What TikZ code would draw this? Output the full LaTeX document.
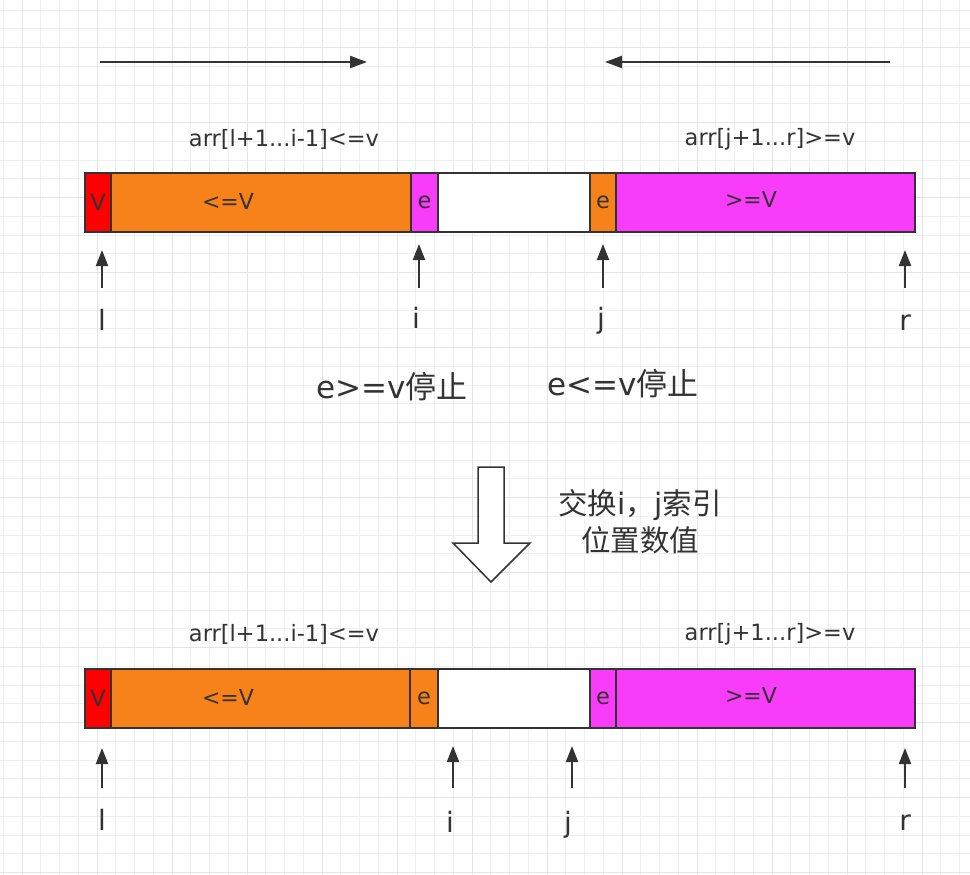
\documentclass[tikz,border=0pt]{standalone}
\usepackage{fontspec}
\setmainfont{DejaVu Sans}
\newfontfamily\cjk{Noto Sans CJK SC}
\usetikzlibrary{arrows.meta}
\definecolor{lc}{HTML}{333333}
\definecolor{tc}{HTML}{333333}
\definecolor{cred}{HTML}{FF0000}
\definecolor{corange}{HTML}{F8821A}
\definecolor{cmag}{HTML}{F93CF9}
\definecolor{gminor}{HTML}{EFEFEF}
\definecolor{gmajor}{HTML}{E4E4E4}
\tikzset{
  cell/.style={draw=lc, line width=1.4pt, inner sep=0pt, outer sep=0pt, minimum height=59pt, text=tc, font=\fontsize{22.5}{26}\selectfont},
  celltext/.style={text=tc, font=\fontsize{22}{26}\selectfont, inner sep=0pt},
  lbl/.style={text=tc, font=\fontsize{22.5}{26}\selectfont, inner sep=0pt},
  ptr/.style={text=tc, font=\fontsize{28}{32}\selectfont, inner sep=0pt, anchor=base},
  big/.style={text=tc, font=\fontsize{31}{36}\selectfont, inner sep=0pt},
  note/.style={text=tc, font=\fontsize{29.5}{37}\selectfont, inner sep=0pt, align=center},
  parr/.style={draw=lc, line width=2pt, -{Stealth[length=16pt,width=12pt,inset=0pt]}},
}
\begin{document}
\begin{tikzpicture}[x=1pt,y=-1pt]
\fill[white] (0,0) rectangle (970,875);
\useasboundingbox (0,0) rectangle (970,875);
% grid
\foreach \k in {-1,...,51} {
  \draw[gminor, line width=0.8pt] ({22+\k*18.75},0) -- ({22+\k*18.75},875);
  \draw[gminor, line width=0.8pt] (0,{10+\k*18.75}) -- (970,{10+\k*18.75});
}
\foreach \k in {-1,...,13} {
  \draw[gmajor, line width=1pt] ({22+\k*75},0) -- ({22+\k*75},875);
  \draw[gmajor, line width=1pt] (0,{47.5+\k*75}) -- (970,{47.5+\k*75});
}
% top direction arrows
\coordinate (ra0) at (100,62);
\coordinate (ra1) at (367,62);
\coordinate (la0) at (890,62);
\coordinate (la1) at (605,62);
\draw[parr, -{Stealth[length=17pt,width=12pt,inset=0pt]}] (ra0) -- (ra1);
\draw[parr, -{Stealth[length=17pt,width=12pt,inset=0pt]}] (la0) -- (la1);
% top labels
\node[lbl] (tl1) at (284,139) {arr[l+1...i-1]<=v};
\node[lbl] (tl2) at (770,139) {arr[j+1...r]>=v};
% top bar
\node[cell, fill=cred, minimum width=26pt] (a1) at (98,202.5) {V};
\node[cell, fill=corange, minimum width=300pt] (a2) at (261,202.5) {};
\node[celltext] (a2t) at (228,201) {<=V};
\node[cell, fill=cmag, minimum width=27pt] (a3) at (424.5,202.5) {e};
\node[cell, fill=white, minimum width=152pt] (a4) at (514,202.5) {};
\node[cell, fill=corange, minimum width=26pt] (a5) at (603,202.5) {e};
\node[cell, fill=cmag, minimum width=299pt] (a6) at (765.5,202.5) {};
\node[celltext] (a6t) at (751,199) {>=V};
% top pointers
\coordinate (p1s) at (102,288); \coordinate (p1e) at (102,250);
\coordinate (p2s) at (419,288); \coordinate (p2e) at (419,244);
\coordinate (p3s) at (603,288); \coordinate (p3e) at (603,244);
\coordinate (p4s) at (905,288); \coordinate (p4e) at (905,250);
\draw[parr] (p1s) -- (p1e);
\draw[parr] (p2s) -- (p2e);
\draw[parr] (p3s) -- (p3e);
\draw[parr] (p4s) -- (p4e);
\node[ptr] (l1) at (102,330) {l};
\node[ptr] (i1) at (416,328) {i};
\node[ptr] (j1) at (601,328) {j};
\node[ptr] (r1) at (905,330) {r};
% stop conditions
\node[big] (s1) at (392,387) {e>=v{\cjk 停止}};
\node[big] (s2) at (623,384) {e<=v{\cjk 停止}};
% big down arrow
\draw[draw=lc, line width=1.5pt, fill=white, line join=miter]
  (478,467) -- (504,467) -- (504,543) -- (530,543) -- (491,582) -- (453,543) -- (478,543) -- cycle;
\node[note] (sw) at (640,522) {{\cjk 交换}i{\cjk ，}j{\cjk 索引}\\{\cjk 位置数值}};
% bottom labels
\node[lbl] (bl1) at (284,634) {arr[l+1...i-1]<=v};
\node[lbl] (bl2) at (770,634) {arr[j+1...r]>=v};
% bottom bar
\node[cell, fill=cred, minimum width=26pt] (b1) at (98,698.5) {V};
\node[cell, fill=corange, minimum width=299pt] (b2) at (260.5,698.5) {};
\node[celltext] (b2t) at (228,697) {<=V};
\node[cell, fill=corange, minimum width=28pt] (b3) at (424,698.5) {e};
\node[cell, fill=white, minimum width=152pt] (b4) at (514,698.5) {};
\node[cell, fill=cmag, minimum width=26pt] (b5) at (603,698.5) {e};
\node[cell, fill=cmag, minimum width=299pt] (b6) at (765.5,698.5) {};
\node[celltext] (b6t) at (751,695) {>=V};
% bottom pointers
\coordinate (q1s) at (102,788); \coordinate (q1e) at (102,748);
\coordinate (q2s) at (453,788); \coordinate (q2e) at (453,746);
\coordinate (q3s) at (572,788); \coordinate (q3e) at (572,746);
\coordinate (q4s) at (905,788); \coordinate (q4e) at (905,748);
\draw[parr] (q1s) -- (q1e);
\draw[parr] (q2s) -- (q2e);
\draw[parr] (q3s) -- (q3e);
\draw[parr] (q4s) -- (q4e);
\node[ptr] (l2) at (102,830) {l};
\node[ptr] (i2) at (450,832) {i};
\node[ptr] (j2) at (568,832) {j};
\node[ptr] (r2) at (905,830) {r};
\end{tikzpicture}
\end{document}
